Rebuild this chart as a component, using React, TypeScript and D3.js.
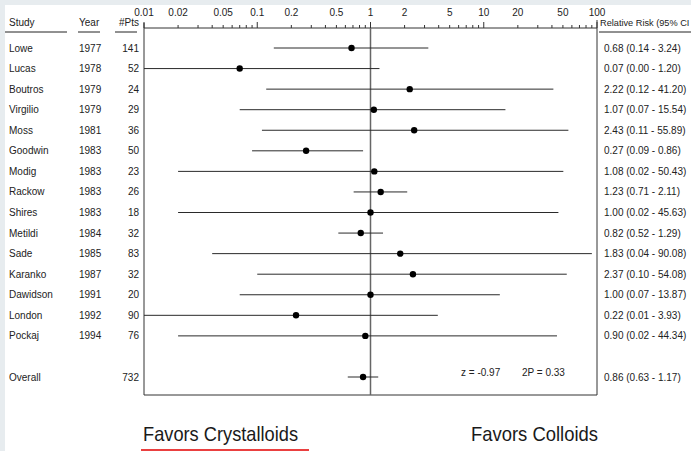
import React from "react";
import * as d3 from "d3";

const studies = ["Lowe","Lucas","Boutros","Virgilio","Moss","Goodwin","Modig","Rackow","Shires","Metildi","Sade","Karanko","Dawidson","London","Pockaj"];
const years = ["1977","1978","1979","1979","1981","1983","1983","1983","1983","1984","1985","1987","1991","1992","1994"];
const patients = [141,52,24,29,36,50,23,26,18,32,83,32,20,90,76];
const rr = [0.68,0.07,2.22,1.07,2.43,0.27,1.08,1.23,1.00,0.82,1.83,2.37,1.00,0.22,0.90];
const ciLow = [0.14,0.00,0.12,0.07,0.11,0.09,0.02,0.71,0.02,0.52,0.04,0.10,0.07,0.01,0.02];
const ciHigh = [3.24,1.20,41.20,15.54,55.89,0.86,50.43,2.11,45.63,1.29,90.08,54.08,13.87,3.93,44.34];
const overall = { label: "Overall", pts: 732, rr: 0.86, lo: 0.63, hi: 1.17 };
const tickLabels = [0.01,0.02,0.05,0.1,0.2,0.5,1,2,5,10,20,50,100];
const stats = ["z = -0.97", "2P = 0.33"];
const rightHeader = "Relative Risk (95% CI";

const W = 691, H = 451;
const FONT = "'Liberation Sans', Arial, Helvetica, sans-serif";

export default function App() {
  const x = d3.scaleLog().domain([0.01, 100]).range([144, 597]).clamp(true);
  const y = d3.scaleLinear().domain([0, 16]).range([48, 377]);
  const top = 28, bottom = 395;
  const minorTicks: number[] = [];
  [0.01, 0.1, 1, 10].forEach((d) => {
    for (let k = 2; k <= 9; k++) minorTicks.push(d * k);
  });
  const majors = [0.01, 0.1, 1, 10, 100];
  const fmt = (v: number) => v.toFixed(2);
  const txt = "#222";
  const lineCol = "#2a2a2a";
  const rowLabel = (i: number) => y(i) + 3.5;

  return (
    <svg width={W} height={H} style={{ position: "absolute", left: 0, top: 0, display: "block" }} fontFamily={FONT}>
      <rect x={0} y={0} width={W} height={H} fill="#e7ecef" />
      <rect x={5} y={5} width={W - 5} height={H - 5} fill="#ffffff" />

      {/* column headers */}
      <g fontSize={10} fill={txt}>
        <text x={9} y={26}>Study</text>
        <text x={79} y={26}>Year</text>
        <text x={139} y={26} textAnchor="end">#Pts</text>
        <text x={600} y={26} fontSize={9.2}>{rightHeader}</text>
      </g>
      <g stroke="#222" strokeWidth={1}>
        <line x1={5} x2={67} y1={32} y2={32} />
        <line x1={78} x2={100} y1={32} y2={32} />
        <line x1={115} x2={137} y1={32} y2={32} />
        <line x1={599} x2={691} y1={32} y2={32} />
      </g>

      {/* axis and box */}
      <g stroke="#333" strokeWidth={1} fill="none">
        <line x1={x(0.01)} x2={x(100)} y1={top} y2={top} />
        <line x1={x(0.01)} x2={x(0.01)} y1={top - 5} y2={bottom} />
        <line x1={x(100)} x2={x(100)} y1={top - 8} y2={bottom} />
        <line x1={x(0.01)} x2={x(100)} y1={bottom} y2={bottom} />
        {minorTicks.map((t, i) => (
          <line key={"mi" + i} x1={x(t)} x2={x(t)} y1={top - 3} y2={top} />
        ))}
        {majors.map((t, i) => (
          <line key={"ma" + i} x1={x(t)} x2={x(t)} y1={top - 6} y2={top} />
        ))}
      </g>
      <line x1={x(1)} x2={x(1)} y1={top} y2={bottom} stroke="#666" strokeWidth={1.5} />
      <g fontSize={10} fill={txt} textAnchor="middle">
        {tickLabels.map((t, i) => (
          <text key={i} x={x(t)} y={16}>{String(t)}</text>
        ))}
      </g>

      {/* rows */}
      {studies.map((s, i) => (
        <g key={s}>
          <g fontSize={10} fill={txt}>
            <text x={9} y={rowLabel(i)}>{s}</text>
            <text x={79} y={rowLabel(i)}>{years[i]}</text>
            <text x={139} y={rowLabel(i)} textAnchor="end">{patients[i]}</text>
            <text x={604} y={rowLabel(i)}>{`${fmt(rr[i])} (${fmt(ciLow[i])} - ${fmt(ciHigh[i])})`}</text>
          </g>
          <line x1={x(Math.max(ciLow[i], 0.01))} x2={x(ciHigh[i])} y1={y(i)} y2={y(i)} stroke={lineCol} strokeWidth={1} />
          <circle cx={x(rr[i])} cy={y(i)} r={3.2} fill="#000" />
        </g>
      ))}

      {/* overall */}
      <g fontSize={10} fill={txt}>
        <text x={9} y={rowLabel(16)}>{overall.label}</text>
        <text x={139} y={rowLabel(16)} textAnchor="end">{overall.pts}</text>
        <text x={604} y={rowLabel(16)}>{`${fmt(overall.rr)} (${fmt(overall.lo)} - ${fmt(overall.hi)})`}</text>
        <text x={461} y={y(16) - 1}>{stats[0]}</text>
        <text x={522} y={y(16) - 1}>{stats[1]}</text>
      </g>
      <line x1={x(overall.lo)} x2={x(overall.hi)} y1={y(16)} y2={y(16)} stroke={lineCol} strokeWidth={1} />
      <circle cx={x(overall.rr)} cy={y(16)} r={3.2} fill="#000" />

      {/* bottom labels */}
      <g fontSize={21} fill="#1a1a1a">
        <text x={143} y={441} textLength={155} lengthAdjust="spacingAndGlyphs">Favors Crystalloids</text>
        <text x={471} y={441} textLength={127} lengthAdjust="spacingAndGlyphs">Favors Colloids</text>
      </g>
      <line x1={141} x2={309} y1={450} y2={450} stroke="#e30000" strokeWidth={1.5} />
    </svg>
  );
}
